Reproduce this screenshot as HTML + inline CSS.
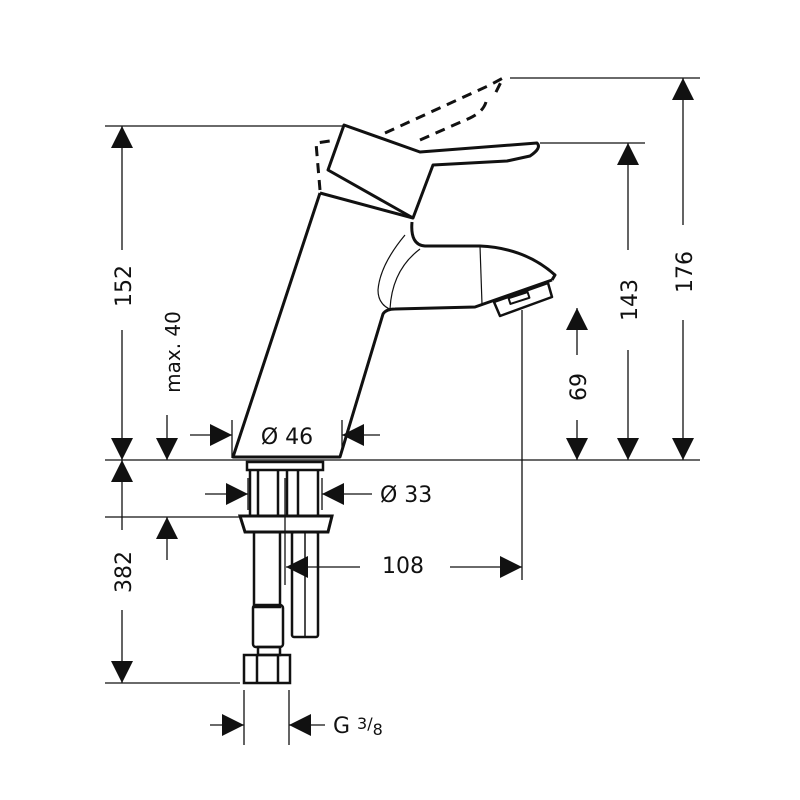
<!DOCTYPE html>
<html><head><style>html,body{margin:0;padding:0;background:#fff}svg{display:block}text{font-family:"DejaVu Sans","Liberation Sans",sans-serif;fill:#111}</style></head><body>
<svg width="800" height="800" viewBox="0 0 800 800" xmlns="http://www.w3.org/2000/svg">
<defs>
<marker id="a" viewBox="0 0 10 10" refX="10" refY="5" markerWidth="22" markerHeight="22" markerUnits="userSpaceOnUse" orient="auto"><path d="M0,0 L10,5 L0,10z" fill="#111"/></marker>
</defs>
<g stroke="#111" stroke-width="1.3" fill="none">
<line x1="105" y1="126" x2="345" y2="126"/>
<line x1="510" y1="78" x2="700" y2="78"/>
<line x1="540" y1="143" x2="645" y2="143"/>
<line x1="105" y1="460" x2="700" y2="460"/>
<line x1="105" y1="517" x2="240" y2="517"/>
<line x1="105" y1="683" x2="240" y2="683"/>
<line x1="522" y1="310" x2="522" y2="580"/>
<line x1="244" y1="690" x2="244" y2="745"/>
<line x1="289" y1="690" x2="289" y2="745"/>
<line x1="232" y1="420" x2="232" y2="458"/>
<line x1="342" y1="420" x2="342" y2="450"/>
<line x1="248" y1="478" x2="248" y2="510"/>
<line x1="322" y1="478" x2="322" y2="510"/>
<line x1="122" y1="250" x2="122" y2="126" marker-end="url(#a)"/>
<line x1="122" y1="330" x2="122" y2="460" marker-end="url(#a)"/>
<line x1="122" y1="530" x2="122" y2="460" marker-end="url(#a)"/>
<line x1="122" y1="610" x2="122" y2="683" marker-end="url(#a)"/>
<line x1="167" y1="415" x2="167" y2="460" marker-end="url(#a)"/>
<line x1="167" y1="560" x2="167" y2="517" marker-end="url(#a)"/>
<line x1="628" y1="250" x2="628" y2="143" marker-end="url(#a)"/>
<line x1="628" y1="350" x2="628" y2="460" marker-end="url(#a)"/>
<line x1="683" y1="225" x2="683" y2="78" marker-end="url(#a)"/>
<line x1="683" y1="320" x2="683" y2="460" marker-end="url(#a)"/>
<line x1="577" y1="355" x2="577" y2="308" marker-end="url(#a)"/>
<line x1="577" y1="420" x2="577" y2="460" marker-end="url(#a)"/>
<line x1="190" y1="435" x2="232" y2="435" marker-end="url(#a)"/>
<line x1="380" y1="435" x2="342" y2="435" marker-end="url(#a)"/>
<line x1="205" y1="494" x2="248" y2="494" marker-end="url(#a)"/>
<line x1="372" y1="494" x2="322" y2="494" marker-end="url(#a)"/>
<line x1="450" y1="567" x2="522" y2="567" marker-end="url(#a)"/>
<line x1="360" y1="567" x2="286" y2="567" marker-end="url(#a)"/>
<line x1="285" y1="478" x2="285" y2="585"/>
<line x1="210" y1="725" x2="244" y2="725" marker-end="url(#a)"/>
<line x1="325" y1="725" x2="289" y2="725" marker-end="url(#a)"/>
</g>
<g stroke="#111" stroke-width="3" fill="none" stroke-linejoin="round">
<path d="M320,193 L233,457 L340,457 L383,314 Q386,309 395,309 L475,307 L552,280"/>
<path d="M412,222 Q410,245 425,246 L480,246 Q525,248 555,275 L552,280"/>
<path d="M494,302 L548,283 L552,297 L500,316 Z" stroke-width="2.5"/>
<rect x="509" y="295" width="20" height="6" transform="rotate(-18 519 298)" stroke-width="2"/>
<path d="M344,125 L420,152 L537,143 Q542,148 530,156 L507,161 L433,165 L413,218 L328,170 Z"/>
<path d="M320,193 L413,218"/>
<g stroke-dasharray="10,7" stroke-width="3">
<path d="M320,190 L316,143 L330,141"/>
<path d="M385,133 L490,85 L503,78 L494,96"/>
<path d="M420,140 L470,118 Q483,112 486,102"/>
</g>
</g>
<g stroke="#111" stroke-width="1.2" fill="none">
<path d="M405,235 Q380,265 378,290 Q378,305 392,310"/>
<path d="M420,249 Q392,270 390,309"/>
<line x1="480" y1="246" x2="482" y2="304"/>
</g>
<g stroke="#111" stroke-width="2.5" fill="none">
<rect x="247" y="462" width="76" height="8"/>
<line x1="250" y1="470" x2="250" y2="515"/><line x1="258" y1="470" x2="258" y2="515"/>
<line x1="278" y1="470" x2="278" y2="515"/><line x1="287" y1="470" x2="287" y2="515"/>
<line x1="298" y1="470" x2="298" y2="515"/><line x1="318" y1="470" x2="318" y2="515"/>
<path d="M240,516 L332,516 L328,532 L245,532 Z" stroke-width="3"/>
<rect x="254" y="532" width="26" height="75"/>
<rect x="292" y="532" width="26" height="105" rx="2"/>
<line x1="305" y1="532" x2="305" y2="637" stroke-width="1.5"/>
<rect x="253" y="605" width="30" height="42" rx="3"/>
<rect x="258" y="647" width="22" height="8"/>
<rect x="244" y="655" width="46" height="28"/>
<line x1="257" y1="655" x2="257" y2="683"/><line x1="278" y1="655" x2="278" y2="683"/>
</g>
<g font-size="22">
<text x="0" y="0" transform="translate(131,286) rotate(-90)" text-anchor="middle">152</text>
<text x="0" y="0" transform="translate(131,572) rotate(-90)" text-anchor="middle">382</text>
<text x="0" y="0" transform="translate(180,352) rotate(-90)" text-anchor="middle" font-size="20">max. 40</text>
<text x="0" y="0" transform="translate(637,300) rotate(-90)" text-anchor="middle">143</text>
<text x="0" y="0" transform="translate(692,272) rotate(-90)" text-anchor="middle">176</text>
<text x="0" y="0" transform="translate(586,387) rotate(-90)" text-anchor="middle">69</text>
<text x="287" y="444" text-anchor="middle">Ø 46</text>
<text x="380" y="502">Ø 33</text>
<text x="382" y="573">108</text>
<text x="333" y="733">G <tspan font-size="16" dy="-4">3</tspan><tspan font-size="16">/</tspan><tspan font-size="16" dy="6">8</tspan></text>
</g>
</svg>
</body></html>
